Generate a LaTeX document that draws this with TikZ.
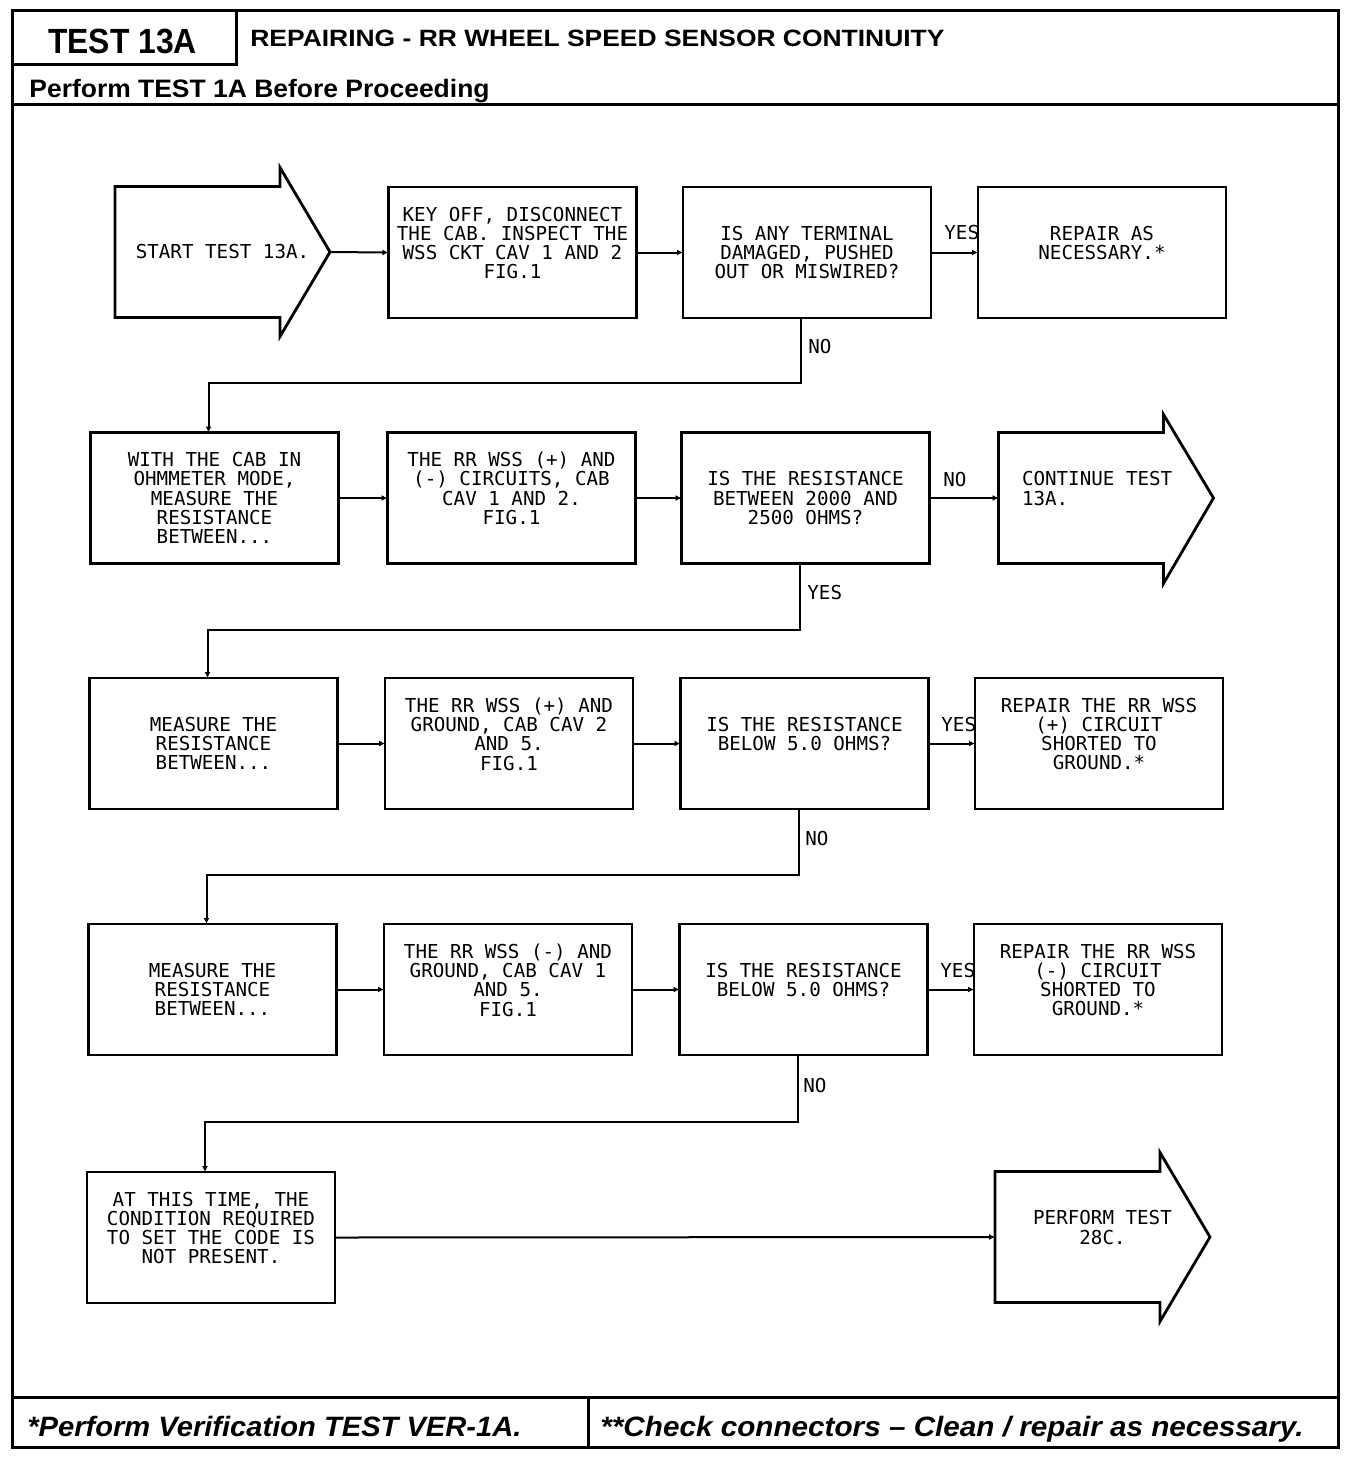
\documentclass[tikz,border=0pt]{standalone}
\usepackage{fontspec}
\usetikzlibrary{arrows.meta,calc}
\newfontfamily\boxfont{DejaVu Sans Mono}
\newfontfamily\testfont[FakeStretch=0.91]{Liberation Sans}
\newfontfamily\titlefont[FakeStretch=1.12]{Liberation Sans}
\newfontfamily\perffont[FakeStretch=1.05]{Liberation Sans}
\newfontfamily\footfont[FakeStretch=1.04]{Liberation Sans}
\newfontfamily\footfontb[FakeStretch=1.06]{Liberation Sans}
\tikzset{
  box/.style={draw, line width=1.4pt, minimum width=124pt, minimum height=65.5pt,
    inner sep=0pt, outer sep=0pt, align=center,
    font=\boxfont\fontsize{9.6pt}{9.65pt}\selectfont},
  shp/.style={draw=none, minimum width=107.5pt, minimum height=65.5pt,
    inner sep=0pt, outer sep=0pt, align=center,
    font=\boxfont\fontsize{9.6pt}{9.65pt}\selectfont},
  outline/.style={line width=1.4pt, line join=miter},
  conn/.style={line width=1pt, -{Latex[length=3pt,width=3pt]}},
  lbl/.style={inner sep=0pt, font=\boxfont\fontsize{9.6pt}{9.65pt}\selectfont},
  frame/.style={line width=1.5pt}
}
\begin{document}
\begin{tikzpicture}[x=0.5pt,y=-0.5pt]
\useasboundingbox (0,0) rectangle (1360,1458);
% frame
\draw[frame] (12,10) rectangle (1338,1447);
\draw[frame] (236,10) -- (236,64) -- (12,64);
\draw[frame] (12,104) -- (1338,104);
\draw[frame] (12,1397) -- (1338,1397);
\draw[frame] (588,1397) -- (588,1447);
\node[anchor=base, inner sep=0pt, font=\testfont\bfseries\fontsize{17.5pt}{20pt}\selectfont] (ttest) at (122.5,53) {TEST 13A};
\node[anchor=base west, inner sep=0pt, font=\titlefont\bfseries\fontsize{11.8pt}{14pt}\selectfont] (ttitle) at (250,46) {REPAIRING - RR WHEEL SPEED SENSOR CONTINUITY};
\node[anchor=base west, inner sep=0pt, font=\perffont\bfseries\fontsize{12.6pt}{15pt}\selectfont] (tperf) at (29,97) {Perform TEST 1A Before Proceeding};
\node[anchor=base west, inner sep=0pt, font=\footfont\bfseries\itshape\fontsize{14pt}{16pt}\selectfont] (tfoot1) at (27,1436) {*Perform Verification TEST VER-1A.};
\node[anchor=base west, inner sep=0pt, font=\footfontb\bfseries\itshape\fontsize{14pt}{16pt}\selectfont] (tfoot2) at (600,1436) {**Check connectors – Clean / repair as necessary.};

% row 1
\node[shp] (start) at (222.5,252) {START TEST 13A.};
\draw[outline] (start.north west) -- ++(165,0) -- ++(0,-19) -- (start.east) -- ($(start.south west)+(165,19)$) -- ++(0,-19) -- (start.south west) -- cycle;
\node[box] (b1) at (512.5,252.5) {KEY OFF, DISCONNECT\\THE CAB. INSPECT THE\\WSS CKT CAV 1 AND 2\\FIG.1\\~};
\node[box] (c1) at (807,252.5) {IS ANY TERMINAL\\DAMAGED, PUSHED\\OUT OR MISWIRED?};
\node[box] (d1) at (1102,252.5) {REPAIR AS\\NECESSARY.*\\~};
\draw[conn] (start.east) -- (b1.west);
\draw[conn] (b1.east) -- (c1.west);
\draw[conn] (c1.east) -- (d1.west);
\node[lbl, anchor=base west] (y1) at (944,239) {YES};

% row 2
\node[box] (a2) at (214.5,498) {WITH THE CAB IN\\OHMMETER MODE,\\MEASURE THE\\RESISTANCE\\BETWEEN...};
\node[box] (b2) at (511.5,498) {THE RR WSS (+) AND\\(-) CIRCUITS, CAB\\CAV 1 AND 2.\\FIG.1\\~};
\node[box] (c2) at (805.5,498) {IS THE RESISTANCE\\BETWEEN 2000 AND\\2500 OHMS?};
\node[shp, text width=84pt, align=left] (d2) at (1106,498) {CONTINUE\hspace{0.602em}TEST\\13A.\\~};
\draw[outline] (d2.north west) -- ++(165,0) -- ++(0,-18) -- (d2.east) -- ($(d2.south west)+(165,20)$) -- ++(0,-20) -- (d2.south west) -- cycle;
\draw[conn] ([xshift=-3pt]c1.south) -- ++(0,65) -| ([xshift=-3pt]a2.north);
\node[lbl, anchor=base west] (n1) at (808,353) {NO};
\draw[conn] (a2.east) -- (b2.west);
\draw[conn] (b2.east) -- (c2.west);
\draw[conn] (c2.east) -- (d2.west);
\node[lbl, anchor=base west] (n2) at (943,486) {NO};

% row 3
\node[box] (a3) at (213.5,743.5) {MEASURE THE\\RESISTANCE\\BETWEEN...};
\node[box] (b3) at (509,743.5) {THE RR WSS (+) AND\\GROUND, CAB CAV 2\\AND 5.\\FIG.1\\~};
\node[box] (c3) at (804.5,743.5) {IS THE RESISTANCE\\BELOW 5.0 OHMS?\\~};
\node[box] (d3) at (1099,743.5) {REPAIR THE RR WSS\\(+) CIRCUIT\\SHORTED TO\\GROUND.*\\~};
\draw[conn] ([xshift=-3pt]c2.south) -- ++(0,66) -| ([xshift=-3pt]a3.north);
\node[lbl, anchor=base west] (y2) at (807,599) {YES};
\draw[conn] (a3.east) -- (b3.west);
\draw[conn] (b3.east) -- (c3.west);
\draw[conn] (c3.east) -- (d3.west);
\node[lbl, anchor=base west] (y3) at (941,731) {YES};

% row 4
\node[box] (a4) at (212.5,989.5) {MEASURE THE\\RESISTANCE\\BETWEEN...};
\node[box] (b4) at (508,989.5) {THE RR WSS (-) AND\\GROUND, CAB CAV 1\\AND 5.\\FIG.1\\~};
\node[box] (c4) at (803.5,989.5) {IS THE RESISTANCE\\BELOW 5.0 OHMS?\\~};
\node[box] (d4) at (1098,989.5) {REPAIR THE RR WSS\\(-) CIRCUIT\\SHORTED TO\\GROUND.*\\~};
\draw[conn] ([xshift=-3pt]c3.south) -- ++(0,66) -| ([xshift=-3pt]a4.north);
\node[lbl, anchor=base west] (n3) at (805,845) {NO};
\draw[conn] (a4.east) -- (b4.west);
\draw[conn] (b4.east) -- (c4.west);
\draw[conn] (c4.east) -- (d4.west);
\node[lbl, anchor=base west] (y4) at (940,977) {YES};

% row 5
\node[box] (a5) at (211,1237.5) {AT THIS TIME, THE\\CONDITION REQUIRED\\TO SET THE CODE IS\\NOT PRESENT.\\~};
\node[shp] (e5) at (1102.5,1237) {PERFORM TEST\\28C.\\~};
\draw[outline] (e5.north west) -- ++(165,0) -- ++(0,-19) -- (e5.east) -- ($(e5.south west)+(165,19)$) -- ++(0,-19) -- (e5.south west) -- cycle;
\draw[conn] ([xshift=-3pt]c4.south) -- ++(0,67) -| ([xshift=-3pt]a5.north);
\node[lbl, anchor=base west] (n4) at (803,1092) {NO};
\draw[conn] (a5.east) -- (e5.west);
\end{tikzpicture}
\end{document}
